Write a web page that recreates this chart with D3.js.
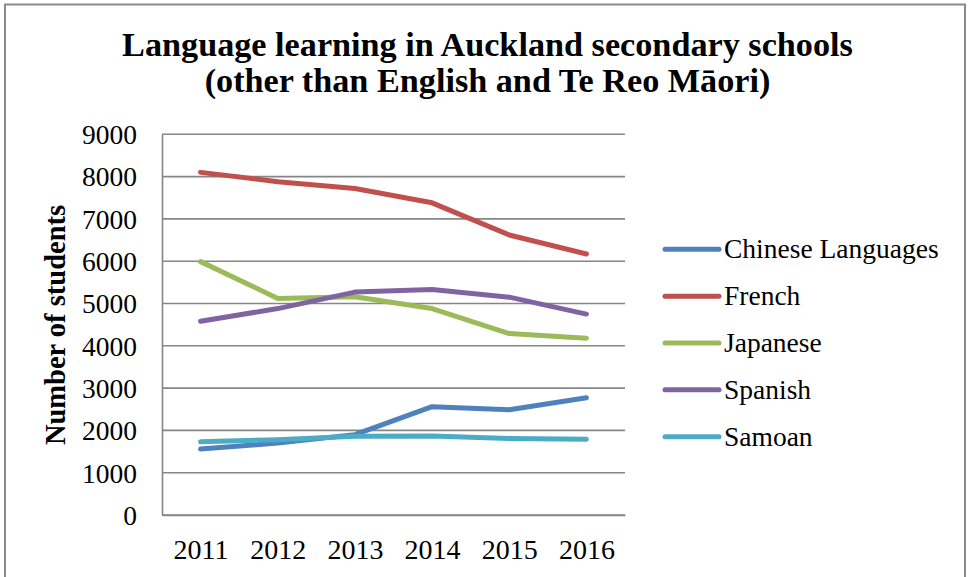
<!DOCTYPE html>
<html>
<head>
<meta charset="utf-8">
<script src="https://cdn.jsdelivr.net/npm/d3@7"></script>
<style>
  html, body { margin: 0; padding: 0; background: #fff; }
  svg { display: block; }
</style>
</head>
<body>
<svg id="chart" width="968" height="577"></svg>
<script>
const years = ["2011", "2012", "2013", "2014", "2015", "2016"];
const seriesNames = ["Chinese Languages", "French", "Japanese", "Spanish", "Samoan"];
const chinese = [1560, 1700, 1900, 2560, 2490, 2770];
const french = [8100, 7880, 7720, 7380, 6620, 6170];
const japanese = [5990, 5120, 5160, 4880, 4290, 4180];
const spanish = [4580, 4880, 5270, 5330, 5150, 4750];
const samoan = [1730, 1780, 1860, 1870, 1810, 1790];
const yTicks = [0, 1000, 2000, 3000, 4000, 5000, 6000, 7000, 8000, 9000];
const colors = ["#4F81BD", "#C0504D", "#9BBB59", "#8064A2", "#4BACC6"];
const titleLines = ["Language learning in Auckland secondary schools", "(other than English and Te Reo Māori)"];
const yTitle = "Number of students";

const seriesValues = [chinese, french, japanese, spanish, samoan];

const svg = d3.select("#chart");
const serif = "'Liberation Serif', 'DejaVu Serif', serif";

// outer frame
svg.append("rect")
  .attr("x", 5).attr("y", 4.5).attr("width", 960).attr("height", 600)
  .attr("fill", "none").attr("stroke", "#8a8a8a").attr("stroke-width", 2);

const plot = { left: 162, right: 625, top: 134.3, bottom: 515 };

const x = d3.scalePoint().domain(years).range([plot.left, plot.right]).padding(0.5);
const y = d3.scaleLinear().domain([0, 9000]).range([plot.bottom, plot.top]);

// gridlines
svg.append("g").selectAll("line").data(yTicks).join("line")
  .attr("x1", plot.left).attr("x2", plot.right)
  .attr("y1", d => y(d)).attr("y2", d => y(d))
  .attr("stroke", "#868686").attr("stroke-width", 1.6);

// y axis
const yAxis = d3.axisLeft(y).tickValues(yTicks).tickSize(0).tickPadding(25).tickFormat(d3.format("d"));
const gy = svg.append("g").attr("transform", `translate(${plot.left},0)`).call(yAxis);
gy.select(".domain").attr("stroke", "#868686").attr("stroke-width", 1.6);
gy.selectAll("text").attr("font-family", serif).attr("font-size", 27.5).attr("fill", "#000").attr("dy", "0.34em");

// x axis
const xAxis = d3.axisBottom(x).tickSize(0).tickPadding(24);
const gx = svg.append("g").attr("transform", `translate(0,${plot.bottom})`).call(xAxis);
gx.select(".domain").attr("stroke", "#868686").attr("stroke-width", 1.6);
gx.selectAll("text").attr("font-family", serif).attr("font-size", 28).attr("fill", "#000").attr("dy", "0.71em");

// lines
const line = d3.line().x((d, i) => x(years[i])).y(d => y(d));
svg.append("g").selectAll("path").data(seriesValues).join("path")
  .attr("d", d => line(d))
  .attr("fill", "none")
  .attr("stroke", (d, i) => colors[i])
  .attr("stroke-width", 5)
  .attr("stroke-linejoin", "round")
  .attr("stroke-linecap", "round");

// legend
const lg = svg.append("g");
const legY = d3.scalePoint().domain(seriesNames).range([249.3, 436.7]);
seriesNames.forEach((name, i) => {
  const yy = legY(name);
  lg.append("line").attr("x1", 665).attr("x2", 719).attr("y1", yy).attr("y2", yy)
    .attr("stroke", colors[i]).attr("stroke-width", 5).attr("stroke-linecap", "round");
  lg.append("text").attr("x", 724).attr("y", yy + 9)
    .attr("font-family", serif).attr("font-size", 27.5).attr("fill", "#000").text(name);
});

// y-axis title
svg.append("text")
  .attr("transform", "translate(65,325) rotate(-90)")
  .attr("text-anchor", "middle")
  .attr("font-family", serif).attr("font-weight", "bold").attr("font-size", 28.5)
  .attr("fill", "#000").text(yTitle);

// title
const t1 = svg.append("text").attr("x", 487.5).attr("y", 56).attr("text-anchor", "middle")
  .attr("font-family", serif).attr("font-weight", "bold").attr("font-size", 31).attr("fill", "#000").text(titleLines[0]);
const t2 = svg.append("text").attr("x", 487.5).attr("y", 92).attr("text-anchor", "middle")
  .attr("font-family", serif).attr("font-weight", "bold").attr("font-size", 31).attr("fill", "#000").text(titleLines[1]);
const w1 = t1.node().getComputedTextLength();
const fs = 31 * 731 / w1;
t1.attr("font-size", fs);
t2.attr("font-size", fs);
</script>
</body>
</html>
